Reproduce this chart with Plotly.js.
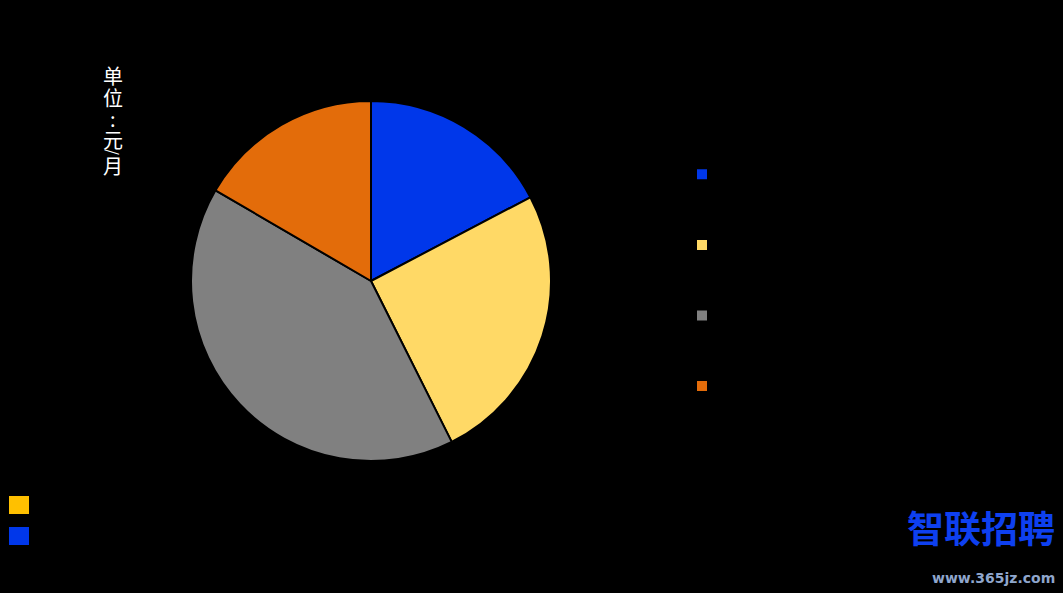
<!DOCTYPE html>
<html>
<head>
<meta charset="utf-8">
<script src="https://cdn.plot.ly/plotly-3.0.1.min.js"></script>
<style>html,body{margin:0;padding:0;background:#000;}#chart{width:1063px;height:593px;}</style>
</head>
<body>
<div id="chart"></div>
<script>
// Data (legend text is drawn black on black in the reference)
const categories = ["4000元以下", "4000-6000元", "6000-8000元", "8000元以上"];
const shares = [17.3, 25.3, 40.8, 16.6];
const sliceColors = ["#0037EA", "#FFD966", "#808080", "#E36C0A"];
const unitChars = ["单", "位", ":", "元", "/", "月"];
const unitCharY = [76, 97, 118, 140, 152, 166];
const secondLegendColors = ["#FFC000", "#0037EA"];
const secondLegendY = [505, 536];

const W = 1063, H = 593;
const px = x => x / W;
const py = y => 1 - y / H;

const pie = {
  type: "pie",
  labels: categories,
  values: shares,
  sort: false,
  direction: "clockwise",
  rotation: 0,
  textinfo: "none",
  hoverinfo: "label+percent",
  marker: { colors: sliceColors, line: { color: "#000", width: 2 } },
  domain: { x: [px(191), px(551)], y: [py(461), py(101)] },
  showlegend: true
};

const annotations = unitChars.map((c, i) => ({
  xref: "paper", yref: "paper",
  x: px(113), y: py(unitCharY[i]),
  xanchor: "center", yanchor: "middle",
  text: c,
  textangle: c === "/" ? 90 : 0,
  showarrow: false,
  font: { family: "Noto Sans CJK SC", size: c === "/" ? 15 : 20, color: "#fff" }
}));

annotations.push({
  xref: "paper", yref: "paper",
  x: px(1057), y: py(527),
  xanchor: "right", yanchor: "middle",
  text: "<b>智联招聘</b>",
  showarrow: false,
  font: { family: "Noto Sans CJK SC", size: 37, color: "#0E40F0" }
});
annotations.push({
  xref: "paper", yref: "paper",
  x: px(1057), y: py(578),
  xanchor: "right", yanchor: "middle",
  text: "<b>www.365jz.com</b>",
  showarrow: false,
  font: { family: "DejaVu Sans", size: 14, color: "#8FA6CC" }
});

const shapes = secondLegendColors.map((c, i) => ({
  type: "rect", xref: "paper", yref: "paper",
  x0: px(9), x1: px(29),
  y0: py(secondLegendY[i] + 9), y1: py(secondLegendY[i] - 9),
  fillcolor: c, line: { width: 0 }
}));

const layout = {
  width: W, height: H,
  paper_bgcolor: "#000",
  plot_bgcolor: "#000",
  margin: { l: 0, r: 0, t: 0, b: 0 },
  legend: {
    x: px(682), y: py(134),
    xanchor: "left", yanchor: "top",
    font: { family: "Noto Sans CJK SC", size: 52, color: "#000" },
    bgcolor: "rgba(0,0,0,0)"
  },
  annotations: annotations,
  shapes: shapes
};

Plotly.newPlot("chart", [pie], layout, { displayModeBar: false, staticPlot: true });
</script>
</body>
</html>
